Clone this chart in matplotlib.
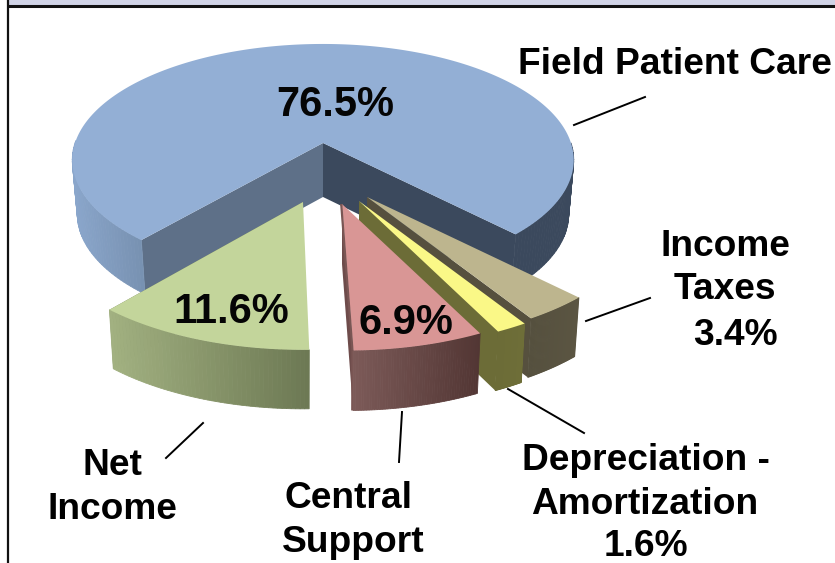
import numpy as np
import matplotlib
matplotlib.use('Agg')
import matplotlib.pyplot as plt
from matplotlib.colors import to_rgb

plt.rcParams['font.family'] = ['Liberation Sans', 'DejaVu Sans']

# data
slices = ['Field Patient Care', 'Income Taxes', 'Depreciation - Amortization', 'Central Support', 'Net Income']
shares = [76.5, 3.4, 1.6, 6.9, 11.6]

# pie look (pixels of the 835x563 picture)
START = 130.6
RX, RY, PERSP = 248, 113.6, 0.147
apex_x = [323, 367, 359, 342, 303]
apex_y = [143, 197, 201, 204, 202]
rim_scale = [1.0, 1.1, 1.11, 1.1, 1.11]
x_scale = [1.0, 1.0, 1.0, 0.97, 0.96]
lean = [0, 0, 0, 5, 0]
depth = [54, 59, 59, 60, 59]
top_col = ['#93AFD5', '#BDB58E', '#FAF887', '#D99695', '#C3D59B']
side_col = ['#5E7088', '#56503E', '#6C6C37', '#6E4C4B', '#6E7B55']
rim_from = ['#3B495D', '#5B5542', '#6E6E38', '#523634', '#6C7853']
rim_to = ['#8AA6CB', '#55503E', '#6C6C37', '#7C5A58', '#A2B181']


def project(theta, i, scale=1.0):
    t = np.radians(theta)
    u, v = np.cos(t), np.sin(t)
    w = 1 - PERSP * v
    return apex_x[i] + x_scale[i] * scale * RX * u / w + lean[i] * v, apex_y[i] + scale * RY * v / w


def wall(x, y, i):
    # the lower edge sits a bit narrower than the top one
    return apex_x[i] + (x - apex_x[i]) * 0.98, y + depth[i]


fig = plt.figure(figsize=(8.35, 5.63), dpi=100)
ax = fig.add_axes([0, 0, 1, 1])
ax.set_xlim(0, 835)
ax.set_ylim(563, 0)
ax.axis('off')

# slide frame
ax.fill([8, 835, 835, 8], [0, 0, 6, 6], color='#D0D3E6', lw=0)
ax.plot([7.5, 835], [6, 6], color='#111111', lw=2.2, solid_capstyle='butt')
ax.plot([7.5, 7.5], [0, 563], color='#111111', lw=1.6, solid_capstyle='butt')

ends = START + np.cumsum([s * 3.6 for s in shares])
starts = np.r_[START, ends[:-1]]

for i in range(len(shares)):
    th = np.linspace(starts[i], ends[i], 240 if i == 0 else 50)
    x, y = project(th, i, rim_scale[i])
    bx, by = wall(x, y, i)
    ax0, ay0 = apex_x[i], apex_y[i]
    bax, bay = wall(ax0, ay0, i)

    if i == 0:
        # back cut: dark face on the right, lighter on the left
        ax.fill([ax0, x[-1], bx[-1], bax], [ay0, y[-1], by[-1], bay], color='#3B495D', lw=0)
        ax.fill([ax0, x[0], bx[0], bax], [ay0, y[0], by[0], bay], color=side_col[i], lw=0)
    else:
        ax.fill([ax0, x[-1], bx[-1], bax], [ay0, y[-1], by[-1], bay], color=side_col[i], lw=0)

    # outer wall, shaded left/right
    c0, c1 = np.array(to_rgb(rim_from[i])), np.array(to_rgb(rim_to[i]))
    xl, xr = x.min(), x.max()
    for k in range(len(th) - 1):
        if np.sin(np.radians(th[k])) < -0.02:
            continue  # back of the pie, hidden by the top
        mid = (x[k] + x[k + 1]) / 2
        if i == 0:
            if mid > apex_x[0]:
                col = c0
            else:
                f = (project(START, 0)[0] - mid) / (project(START, 0)[0] - xl)
                col = np.array(to_rgb('#7891B1')) * (1 - f) + c1 * f
        else:
            f = (xr - mid) / (xr - xl)
            col = c0 * (1 - f) + c1 * f
        ax.fill([x[k], x[k + 1], bx[k + 1], bx[k]], [y[k], y[k + 1], by[k + 1], by[k]],
                facecolor=col, edgecolor=col, lw=0.6)

    ax.fill(np.r_[ax0, x], np.r_[ay0, y], color=top_col[i], lw=0)

    if slices[i] == 'Central Support':
        # thin dark strip along the left cut
        ax.plot([ax0 - 0.8, x[-1] - 0.8], [ay0, y[-1]], color='#7A5654', lw=1.6, solid_capstyle='butt')
        ax.plot([x[-1] - 0.8, bx[-1] - 0.8], [y[-1], by[-1]], color='#7A5654', lw=1.6, solid_capstyle='butt')

# leader lines
lead_x = [[574, 645], [586, 650], [508, 584], [402, 399], [203, 166]]
lead_y = [[125, 97], [321, 298], [389, 433], [412, 462], [423, 458]]
for lx, ly in zip(lead_x, lead_y):
    ax.plot(lx, ly, color='black', lw=1.4)

txt = dict(fontweight='bold', color='black', ha='center', va='center', fontsize=26.7)
pct = dict(fontweight='bold', color='#050505', ha='center', va='center', fontsize=30)

ax.text(335, 105.5, f'{shares[0]}%', **pct)
ax.text(231, 312, f'{shares[4]}%', **pct)
ax.text(406, 323, f'{shares[3]}%', **pct)

ax.text(675, 64.5, 'Field Patient Care', **txt)
ax.text(725, 246.5, 'Income', **txt)
ax.text(725, 289.5, 'Taxes', **txt)
ax.text(735, 335.5, f'{shares[1]}%', **txt)
ax.text(646, 460.5, 'Depreciation -', **txt)
ax.text(645, 504.5, 'Amortization', **txt)
ax.text(646, 546, f'{shares[2]}%', **txt)
ax.text(348, 498.5, 'Central', **txt)
ax.text(353, 542.5, 'Support', **txt)
ax.text(112, 465.5, 'Net', **txt)
ax.text(112, 509.5, 'Income', **txt)

fig.savefig('out.png', dpi=100)
